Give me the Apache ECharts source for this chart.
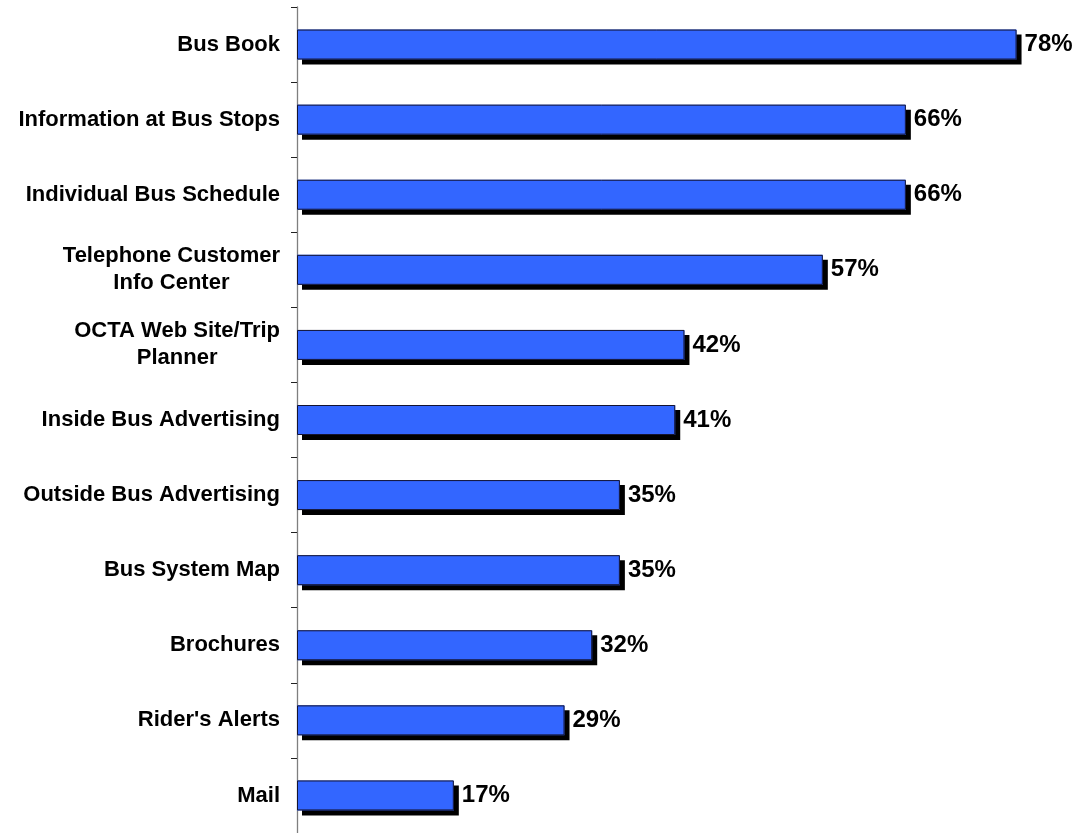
<!DOCTYPE html>
<html>
<head>
<meta charset="utf-8">
<script src="https://cdn.jsdelivr.net/npm/echarts@6/dist/echarts.min.js"></script>
<style>
  html, body { margin: 0; padding: 0; background: #fff; }
  #chart { width: 1075px; height: 833px; }
</style>
</head>
<body>
<div id="chart"></div>
<script>
// Information sources used, share of respondents (%)
const categories = [
  'Bus Book',
  'Information at Bus Stops',
  'Individual Bus Schedule',
  'Telephone Customer\nInfo Center',
  'OCTA Web Site/Trip\nPlanner',
  'Inside Bus Advertising',
  'Outside Bus Advertising',
  'Bus System Map',
  'Brochures',
  "Rider's Alerts",
  'Mail'
];
const shares = [78, 66, 66, 57, 42, 41, 35, 35, 32, 29, 17];

const chart = echarts.init(document.getElementById('chart'), null, { renderer: 'canvas' });

const fontFamily = 'Liberation Sans, Arial, sans-serif';

chart.setOption({
  animation: false,
  backgroundColor: '#ffffff',
  grid: { left: 297, top: 7, width: 738, height: 832, containLabel: false },
  xAxis: {
    type: 'value',
    min: 0,
    max: 80,
    show: false
  },
  yAxis: {
    type: 'category',
    data: categories,
    inverse: true,
    axisLine: { show: true, lineStyle: { color: '#7f7f7f', width: 1.3 } },
    axisTick: { show: true, inside: false, length: 6, lineStyle: { color: '#222', width: 1 } },
    axisLabel: {
      margin: 17,
      align: 'right',
      formatter: function (v) {
        return v.split('\n').map(function (s) { return '{c|' + s + '}'; }).join('\n');
      },
      rich: {
        c: {
          align: 'center',
          fontFamily: fontFamily,
          fontWeight: 'bold',
          fontSize: 22,
          lineHeight: 27,
          color: '#000'
        }
      }
    },
    splitLine: { show: false }
  },
  series: [
    {
      // filled bars with a hard drop shadow
      type: 'bar',
      data: shares,
      barWidth: 30,
      itemStyle: {
        color: '#3366ff',
        borderWidth: 0,
        shadowColor: '#000',
        shadowBlur: 0,
        shadowOffsetX: 5,
        shadowOffsetY: 5
      },
      label: {
        show: true,
        position: 'right',
        distance: 8,
        formatter: '{c}%',
        fontFamily: fontFamily,
        fontWeight: 'bold',
        fontSize: 24,
        color: '#000'
      }
    },
    {
      // outline drawn on top of the same bars
      type: 'bar',
      data: shares,
      barWidth: 30,
      barGap: '-100%',
      silent: true,
      itemStyle: {
        color: 'rgba(0,0,0,0)',
        borderColor: '#141432',
        borderWidth: 1
      }
    }
  ]
});
</script>
</body>
</html>
